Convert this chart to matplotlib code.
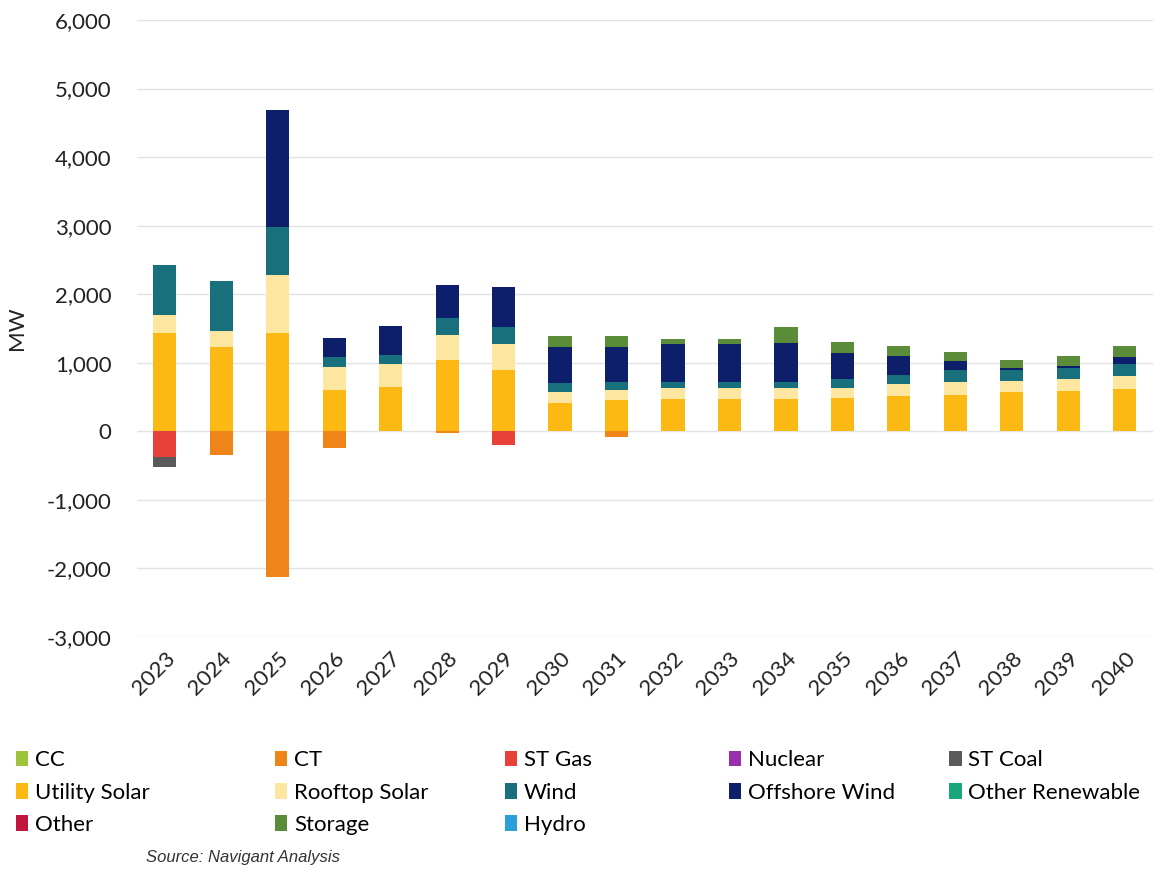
import matplotlib
matplotlib.use("Agg")
import matplotlib.pyplot as plt
from matplotlib.patches import Patch
from matplotlib.ticker import FuncFormatter
import numpy as np

plt.rcParams['font.family'] = ['Lato', 'DejaVu Sans']

# data (MW)
years = [str(y) for y in range(2023, 2041)]
utility_solar = [1430, 1230, 1430, 600, 650, 1040, 890, 420, 450, 470, 470, 470, 490, 510, 530, 570, 590, 620]
rooftop_solar = [260, 240, 850, 340, 330, 360, 380, 150, 150, 160, 160, 160, 140, 180, 190, 170, 180, 180]
wind = [730, 730, 700, 140, 130, 250, 250, 130, 120, 90, 90, 90, 130, 130, 170, 150, 150, 180]
offshore_wind = [0, 0, 1710, 280, 420, 480, 580, 530, 510, 560, 550, 570, 380, 280, 140, 40, 40, 100]
storage = [0, 0, 0, 0, 0, 0, 0, 160, 160, 60, 70, 230, 170, 150, 120, 110, 140, 170]
ct = [0, -350, -2130, -250, 0, -30, 0, 0, -90, 0, 0, 0, 0, 0, 0, 0, 0, 0]
st_gas = [-380, 0, 0, 0, 0, 0, -200, 0, 0, 0, 0, 0, 0, 0, 0, 0, 0, 0]
st_coal = [-145, 0, 0, 0, 0, 0, 0, 0, 0, 0, 0, 0, 0, 0, 0, 0, 0, 0]

colors = {
    'CC': '#9dc43a', 'CT': '#ef8419', 'ST Gas': '#e8413a', 'Nuclear': '#9a2fae',
    'ST Coal': '#5a5a5a', 'Utility Solar': '#fdb913', 'Rooftop Solar': '#fde6a0',
    'Wind': '#17707c', 'Offshore Wind': '#0d1f6b', 'Other Renewable': '#1aa57a',
    'Other': '#c0163e', 'Storage': '#5b8c3a', 'Hydro': '#2a9fd8',
}

fig = plt.figure(figsize=(11.67, 8.71), dpi=100)
ax = fig.add_axes([0.117, 0.2687, 0.871, 0.7083])

x = np.arange(len(years))
w = 0.41

pos = [('Utility Solar', utility_solar), ('Rooftop Solar', rooftop_solar), ('Wind', wind),
       ('Offshore Wind', offshore_wind), ('Storage', storage)]
neg = [('CT', ct), ('ST Gas', st_gas), ('ST Coal', st_coal)]

bottom = np.zeros(len(years))
for name, vals in pos:
    ax.bar(x, vals, w, bottom=bottom, color=colors[name], zorder=3)
    bottom += np.array(vals)
bottom = np.zeros(len(years))
for name, vals in neg:
    ax.bar(x, vals, w, bottom=bottom, color=colors[name], zorder=3)
    bottom += np.array(vals)

ax.set_xlim(-0.5, len(years) - 0.5)
ax.set_ylim(-3000, 6000)
ax.set_yticks(range(-3000, 6001, 1000))
ax.yaxis.set_major_formatter(FuncFormatter(lambda v, p: f'{int(v):,}'))
ax.set_xticks(x)
ax.set_xticklabels(years, rotation=45, ha='right', rotation_mode='anchor')
ax.tick_params(axis='both', length=0, labelsize=16, colors='#222222')
ax.tick_params(axis='y', pad=18)
ax.tick_params(axis='x', pad=8)
ax.grid(axis='y', color='#e3e3e3', linewidth=1, zorder=0)
for s in ax.spines.values():
    s.set_visible(False)
ax.set_ylabel('MW', fontsize=16, color='#222222', labelpad=14)

# legend laid out as five columns
legend_cols = [
    (['CC', 'Utility Solar', 'Other'], 0.006),
    (['CT', 'Rooftop Solar', 'Storage'], 0.228),
    (['ST Gas', 'Wind', 'Hydro'], 0.425),
    (['Nuclear', 'Offshore Wind'], 0.617),
    (['ST Coal', 'Other Renewable'], 0.806),
]
for names, xpos in legend_cols:
    handles = [Patch(facecolor=colors[n], edgecolor='none') for n in names]
    fig.legend(handles, names, loc='upper left', bbox_to_anchor=(xpos, 0.149),
               frameon=False, fontsize=16, handlelength=0.55, handleheight=0.7,
               handletextpad=0.3, labelspacing=0.56, borderaxespad=0)

fig.text(0.125, 0.010, 'Source: Navigant Analysis', fontsize=12, style='italic',
         color='#333333', family=['Liberation Sans', 'DejaVu Sans'])

fig.savefig('out.png', dpi=100)
